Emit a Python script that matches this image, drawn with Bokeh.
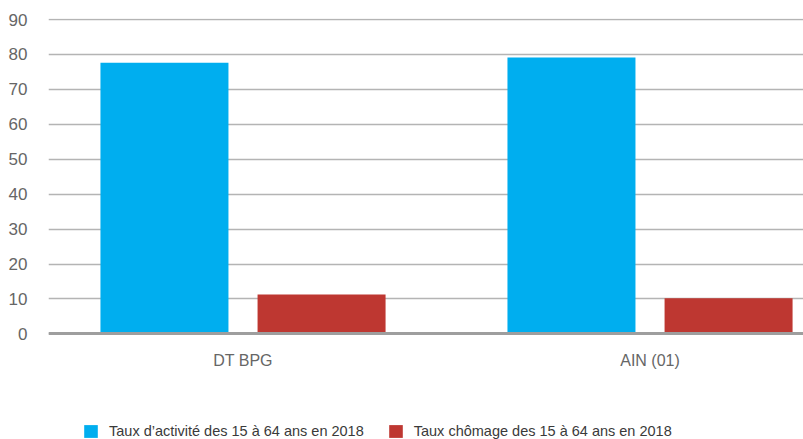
from bokeh.plotting import figure
from bokeh.models import (ColumnDataSource, Range1d, FixedTicker, Legend, LegendItem,
                          LinearAxis)
from bokeh.transform import dodge
from bokeh.embed import file_html
from bokeh.resources import INLINE

categories = ["DT BPG", "AIN (01)"]
series_names = ["Taux d\u2019activit\u00e9 des 15 \u00e0 64 ans en 2018",
                "Taux ch\u00f4mage des 15 \u00e0 64 ans en 2018"]
activite = [77.6, 79.1]
chomage = [11.3, 10.2]
y_ticks = [0, 10, 20, 30, 40, 50, 60, 70, 80, 90]

FONT = "Liberation Sans"
BLUE = "#00aeef"
RED = "#be3731"

src = ColumnDataSource(dict(x=list(range(len(categories))), act=activite, cho=chomage))

p = figure(width=803, height=439, output_backend="svg", toolbar_location=None,
           x_range=Range1d(-0.4779, 1.3771), y_range=Range1d(-30.25, 90.3),
           x_axis_location=None,
           min_border_left=48, min_border_right=0, min_border_top=18, min_border_bottom=0)

r1 = p.vbar(x=dodge("x", -0.193), top="act", width=0.3145, source=src,
            fill_color=BLUE, line_color=None)
r2 = p.vbar(x=dodge("x", 0.193), top="cho", width=0.3145, source=src,
            fill_color=RED, line_color=None)

p.outline_line_color = None
for g in p.grid:
    if g.dimension == 0:
        g.visible = False
        g.grid_line_color = None

p.yaxis.ticker = FixedTicker(ticks=y_ticks)
p.yaxis.axis_line_color = None
p.yaxis.major_tick_line_color = None
p.yaxis.minor_tick_line_color = None
p.yaxis.major_tick_out = 0
p.yaxis.major_tick_in = 0
p.yaxis.major_label_standoff = 21
p.yaxis.major_label_text_font = FONT
p.yaxis.major_label_text_font_size = "17px"
p.yaxis.major_label_text_color = "#666666"

p.ygrid.grid_line_color = "#b4b4b4"
p.ygrid.grid_line_width = 1.3

xaxis = LinearAxis(fixed_location=0,
                   ticker=FixedTicker(ticks=list(range(len(categories)))),
                   major_label_overrides={i: c for i, c in enumerate(categories)})
xaxis.axis_line_color = "#9e9e9e"
xaxis.axis_line_width = 3
xaxis.major_tick_line_color = None
xaxis.minor_tick_line_color = None
xaxis.major_tick_out = 0
xaxis.major_tick_in = 0
xaxis.major_label_standoff = 18
xaxis.major_label_text_font = FONT
xaxis.major_label_text_font_size = "16px"
xaxis.major_label_text_color = "#666666"
p.add_layout(xaxis, "below")

legend = Legend(items=[LegendItem(label=series_names[0], renderers=[r1]),
                       LegendItem(label=series_names[1], renderers=[r2])],
                orientation="horizontal", location=(34, 0),
                glyph_width=17, glyph_height=16, label_text_font=FONT,
                label_text_font_size="14.5px", label_text_color="#3a3a3a",
                spacing=23, padding=0, margin=0, label_standoff=10,
                border_line_color=None, background_fill_alpha=0)
p.add_layout(legend, "center")

open("out.html", "w").write(file_html(p, INLINE))
